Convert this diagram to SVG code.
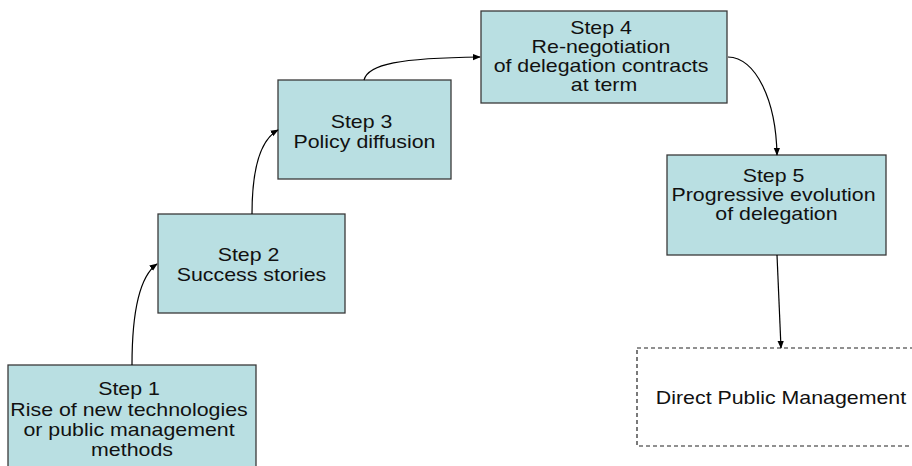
<svg xmlns="http://www.w3.org/2000/svg" width="912" height="466" viewBox="0 0 912 466">
  <style>
    .box { fill: #b9dfe2; stroke: #3a3a3a; stroke-width: 1.3; }
    .dash { fill: #ffffff; stroke: #222222; stroke-width: 1.2; stroke-dasharray: 4 3; }
    .lbl { font-family: "Liberation Sans", Arial, sans-serif; font-size: 17.5px; fill: #111111; text-anchor: middle; }
    .conn { fill: none; stroke: #000000; stroke-width: 1.2; marker-end: url(#arrow); }
  </style>
  <defs>
    <marker id="arrow" viewBox="0 0 10 10" refX="9" refY="5" markerWidth="8" markerHeight="8" markerUnits="userSpaceOnUse" orient="auto">
      <path d="M0,1 L10,5 L0,9 Z" fill="#000000"/>
    </marker>
  </defs>
  <rect width="912" height="466" fill="#ffffff"/>

  <g id="step1">
    <rect class="box" x="8" y="365" width="248" height="110"/>
    <text class="lbl" transform="translate(132 0) scale(1.22 1)">
      <tspan x="0" y="395">Step 1</tspan>
      <tspan x="0" y="416">Rise of new technologies</tspan>
      <tspan x="0" y="436">or public management</tspan>
      <tspan x="0" y="456">methods</tspan>
    </text>
  </g>

  <g id="step2">
    <rect class="box" x="158" y="214" width="187" height="99"/>
    <text class="lbl" transform="translate(251.5 0) scale(1.22 1)">
      <tspan x="0" y="261">Step 2</tspan>
      <tspan x="0" y="281">Success stories</tspan>
    </text>
  </g>

  <g id="step3">
    <rect class="box" x="278" y="80" width="173" height="99"/>
    <text class="lbl" transform="translate(364.5 0) scale(1.22 1)">
      <tspan x="0" y="128">Step 3</tspan>
      <tspan x="0" y="148">Policy diffusion</tspan>
    </text>
  </g>

  <g id="step4">
    <rect class="box" x="481" y="11" width="246" height="92"/>
    <text class="lbl" transform="translate(604 0) scale(1.22 1)">
      <tspan x="0" y="34">Step 4</tspan>
      <tspan x="0" y="53">Re-negotiation</tspan>
      <tspan x="0" y="72">of delegation contracts</tspan>
      <tspan x="0" y="91">at term</tspan>
    </text>
  </g>

  <g id="step5">
    <rect class="box" x="667" y="155" width="219" height="100"/>
    <text class="lbl" transform="translate(776.5 0) scale(1.22 1)">
      <tspan x="0" y="182">Step 5</tspan>
      <tspan x="0" y="201">Progressive evolution</tspan>
      <tspan x="0" y="220">of delegation</tspan>
    </text>
  </g>

  <g id="direct">
    <rect class="dash" x="637" y="348" width="290" height="98"/>
    <text class="lbl" transform="translate(781 0) scale(1.22 1)">
      <tspan x="0" y="404">Direct Public Management</tspan>
    </text>
  </g>

  <g id="connectors">
    <path class="conn" d="M132,365 C132,310 140,276 157,264"/>
    <path class="conn" d="M252,214 C252,170 260,140 278,130"/>
    <path class="conn" d="M364,80 C368,64 400,58 480,57"/>
    <path class="conn" d="M728,57 C756,58 776,100 777,155"/>
    <path class="conn" d="M777,255 L781,348"/>
  </g>
</svg>
